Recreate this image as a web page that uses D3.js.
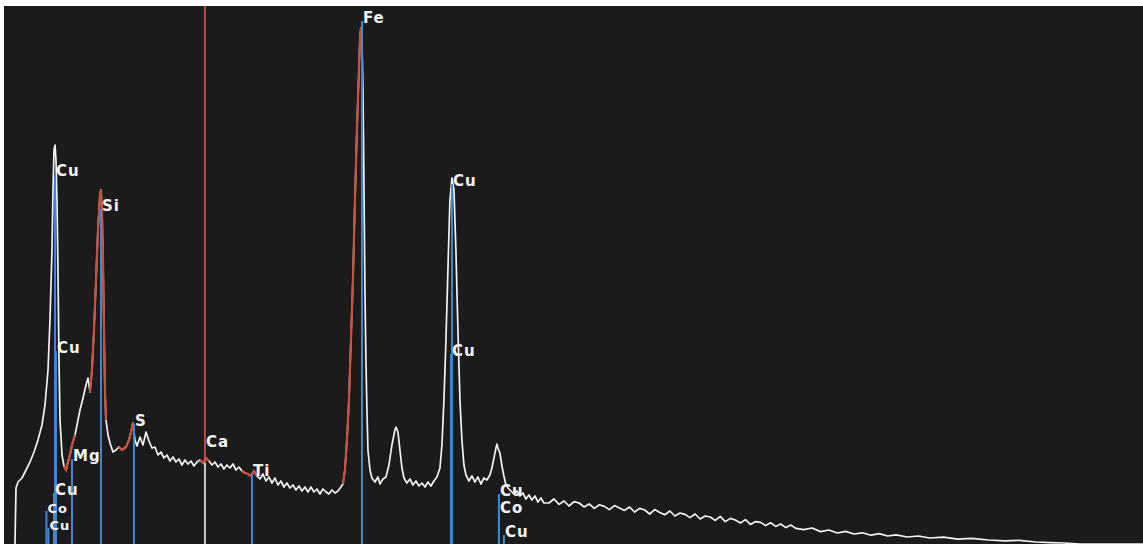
<!DOCTYPE html>
<html>
<head>
<meta charset="utf-8">
<script src="https://cdn.jsdelivr.net/npm/d3@7"></script>
<style>
  html, body { margin: 0; padding: 0; background: #fff; }
  svg { display: block; }
</style>
</head>
<body>
<div id="chart"></div>
<script>
// spectrum: energy (keV) and counts
const energy = [0.214,0.232,0.268,0.339,0.411,0.482,0.554,0.625,0.696,0.750,0.804,0.839,0.875,0.893,0.911,0.929,0.946,0.964,0.982,1.000,1.018,1.054,1.089,1.125,1.161,1.196,1.232,1.286,1.339,1.375,1.429,1.482,1.518,1.554,1.589,1.625,1.661,1.696,1.732,1.750,1.768,1.786,1.804,1.821,1.839,1.875,1.911,1.964,2.018,2.071,2.125,2.196,2.250,2.286,2.321,2.357,2.393,2.446,2.500,2.554,2.607,2.661,2.714,2.768,2.821,2.875,2.929,2.982,3.036,3.089,3.143,3.196,3.250,3.304,3.357,3.411,3.464,3.518,3.571,3.625,3.679,3.732,3.786,3.839,3.893,3.946,4.000,4.054,4.107,4.161,4.214,4.268,4.321,4.375,4.429,4.482,4.536,4.589,4.643,4.696,4.750,4.804,4.857,4.911,4.964,5.018,5.071,5.125,5.179,5.232,5.286,5.339,5.393,5.446,5.500,5.554,5.607,5.661,5.714,5.768,5.821,5.875,5.929,5.982,6.036,6.071,6.107,6.143,6.179,6.214,6.250,6.286,6.321,6.357,6.375,6.393,6.411,6.429,6.446,6.464,6.482,6.500,6.518,6.554,6.589,6.643,6.696,6.732,6.786,6.839,6.893,6.946,7.000,7.018,7.054,7.089,7.125,7.161,7.214,7.268,7.321,7.375,7.429,7.482,7.536,7.589,7.643,7.696,7.750,7.804,7.839,7.875,7.911,7.946,7.982,8.018,8.054,8.089,8.125,8.161,8.196,8.232,8.268,8.321,8.375,8.429,8.482,8.536,8.589,8.643,8.696,8.732,8.768,8.804,8.821,8.839,8.875,8.911,8.946,8.982,9.018,9.071,9.125,9.179,9.232,9.286,9.339,9.393,9.446,9.500,9.554,9.607,9.661,
  9.75,9.84,9.93,10.02,10.11,10.20,10.29,10.38,10.47,10.56,10.65,10.74,10.83,10.92,11.01,11.10,11.19,11.28,11.37,11.46,11.55,11.64,11.73,11.82,11.91,12.00,12.09,12.18,12.27,12.36,12.45,12.54,12.63,12.72,12.81,12.90,12.99,13.08,13.17,13.26,13.35,13.44,13.53,13.62,13.71,13.80,13.89,13.98,14.07,14.16,
  14.30,14.45,14.60,14.75,14.90,15.05,15.20,15.35,15.50,15.65,15.80,15.95,16.15,16.35,16.55,16.80,17.05,17.30,17.60,17.90,18.15,18.45,18.70,18.95,19.25,20.357];
const counts = [0,280,310,330,370,410,460,520,595,695,870,1120,1470,1770,1970,1995,1920,1720,1370,920,620,445,390,370,410,445,495,545,620,670,730,795,830,760,870,1070,1320,1570,1745,1770,1670,1420,1070,770,620,545,505,460,470,485,470,485,520,560,605,520,490,535,495,560,515,480,485,445,460,430,445,415,435,410,425,395,420,400,415,390,410,420,405,430,415,395,410,385,400,375,395,380,400,370,385,365,355,350,340,365,340,325,350,315,335,305,330,295,315,285,305,280,295,270,290,265,285,260,285,260,275,250,275,260,250,270,255,265,285,300,370,520,720,1020,1320,1720,2070,2370,2530,2580,2520,2270,1820,1270,920,670,470,370,330,310,335,300,325,335,395,495,570,585,560,470,380,330,305,325,295,315,290,305,285,310,290,315,335,380,495,720,1020,1370,1720,1830,1770,1470,1070,720,520,395,345,315,340,310,335,300,330,320,345,380,430,480,500,480,455,390,340,295,280,265,250,265,240,255,225,245,220,240,210,230,205,
  205,225,198,215,190,212,205,185,200,178,196,188,172,192,180,168,185,160,178,170,150,172,158,146,165,140,155,148,132,150,125,140,135,118,138,112,128,120,105,122,98,112,108,92,106,88,100,82,95,78,
  72,80,62,70,55,63,50,56,44,52,40,46,35,40,30,34,24,28,20,16,18,10,7,5,0,0];

// fitted element peaks (drawn red), keV ranges
const fitElements = ["Mg", "Si", "S", "Ca", "Ti", "Fe"];
const fitStart = [1.07, 1.54, 2.05, 3.50, 4.23, 6.07];
const fitEnd = [1.32, 1.86, 2.34, 3.73, 4.54, 6.41];

// marker lines: label, energy, height of line top (counts)
const markerLabels = ["Cu", "Cu", "Cu", "Co", "Cu", "Si", "Mg", "S", "Ti", "Fe", "Cu", "Cu", "Cu", "Co", "Cu"];
const markerEnergy = [0.929, 0.946, 0.911, 0.776, 0.811, 1.750, 1.232, 2.339, 4.446, 6.411, 8.018, 8.000, 8.857, 8.857, 8.946];
const markerTop = [1870, 985, 275, 185, 100, 1695, 445, 620, 370, 2635, 1820, 970, 270, 185, 65];
const markerSize = [15, 15, 15, 13, 13, 15, 15, 15, 15, 15, 15, 15, 15, 15, 15];

// cursor line at Ca
const cursorLabel = "Ca";
const cursorEnergy = 3.607;
const cursorTop = 510;

const W = 1143, H = 544;
const svg = d3.select("#chart").append("svg")
  .attr("width", W).attr("height", H);

svg.append("rect").attr("width", W).attr("height", H).attr("fill", "#fff");
svg.append("rect").attr("x", 4).attr("y", 6).attr("width", W - 4).attr("height", H - 6)
  .attr("fill", "#1b1b1b");

const x = d3.scaleLinear().domain([0, 20.36]).range([3, W]);
const y = d3.scaleLinear().domain([0, 2700]).range([H, 4]);

const data = energy.map((e, i) => ({e: e, c: counts[i]}));
const line = d3.line().x(d => x(d.e)).y(d => y(d.c));

// cursor: red above the spectrum, grey below
const ci = d3.bisector(d => d.e).left(data, cursorEnergy);
const cursorY = y(data[Math.max(0, ci - 1)].c);
svg.append("line")
  .attr("x1", x(cursorEnergy)).attr("x2", x(cursorEnergy))
  .attr("y1", 6).attr("y2", cursorY)
  .attr("stroke", "#b84a3c").attr("stroke-width", 2);
svg.append("line")
  .attr("x1", x(cursorEnergy)).attr("x2", x(cursorEnergy))
  .attr("y1", cursorY).attr("y2", H)
  .attr("stroke", "#c9c9c9").attr("stroke-width", 2);

// spectrum
svg.append("path")
  .datum(data)
  .attr("d", line)
  .attr("fill", "none")
  .attr("stroke", "#f2f2f2")
  .attr("stroke-width", 1.7)
  .attr("stroke-linejoin", "round");

// red fitted segments
fitElements.forEach((el, i) => {
  svg.append("path")
    .datum(data.filter(d => d.e >= fitStart[i] && d.e <= fitEnd[i]))
    .attr("d", line)
    .attr("fill", "none")
    .attr("stroke", "#c8503e")
    .attr("stroke-width", 2.2);
});

// blue marker lines
const markers = markerLabels.map((l, i) => ({l: l, e: markerEnergy[i], t: markerTop[i], s: markerSize[i]}));
svg.selectAll(".mk").data(markers).enter().append("line")
  .attr("class", "mk")
  .attr("x1", d => x(d.e)).attr("x2", d => x(d.e))
  .attr("y1", d => y(d.t) + 4).attr("y2", H)
  .attr("stroke", "#4088d2").attr("stroke-width", 2);

// labels
const lab = svg.append("g")
  .attr("font-family", "DejaVu Sans, sans-serif")
  .attr("font-weight", "bold")
  .attr("letter-spacing", 1)
  .attr("fill", "#f4f4f4");
lab.selectAll("text").data(markers).enter().append("text")
  .attr("x", d => x(d.e) + 1)
  .attr("y", d => y(d.t) + 6)
  .attr("font-size", d => d.s)
  .text(d => d.l);
lab.append("text")
  .attr("x", x(cursorEnergy) + 1)
  .attr("y", y(cursorTop) + 5)
  .attr("font-size", 15)
  .text(cursorLabel);
</script>
</body>
</html>
